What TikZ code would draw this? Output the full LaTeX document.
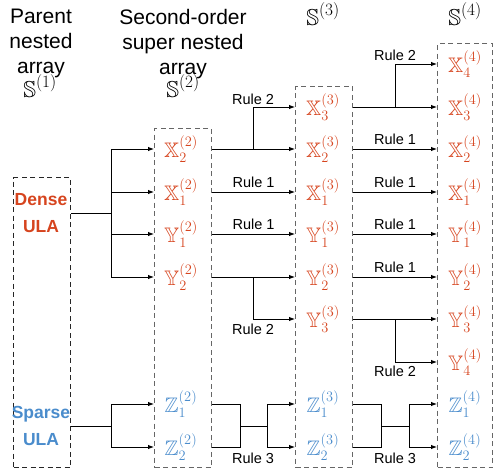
\documentclass[tikz,border=0pt]{standalone}
\usepackage{amsmath, amssymb}
\usepackage[no-math]{fontspec}
\setmainfont{Liberation Sans}
\usetikzlibrary{arrows.meta, positioning, calc}

\definecolor{denseRed}{RGB}{214,68,30}
\definecolor{sparseBlue}{RGB}{74,140,204}

\begin{document}
\begin{tikzpicture}[x=1pt, y=-1pt, line width=0.9pt, >={Latex[length=6pt, width=4.5pt]},
    grp/.style={draw=black!60, dash pattern=on 5pt off 3.5pt, line width=1pt, anchor=north west, inner sep=0pt, minimum width=57pt},
    hd/.style={font=\fontsize{21}{25}\selectfont, align=center, inner sep=0pt},
    lvl/.style={font=\fontsize{23}{23}\selectfont, inner sep=0pt, anchor=base},
    rl/.style={font=\fontsize{14.5}{16}\selectfont, inner sep=1pt},
    ula/.style={font=\fontsize{17.5}{27}\selectfont\bfseries, align=center, inner sep=0pt},
    xe/.style={text=denseRed, font=\fontsize{21}{21}\selectfont, inner sep=0pt},
    ze/.style={text=sparseBlue, font=\fontsize{21}{21}\selectfont, inner sep=0pt}]
  \useasboundingbox (0,0) rectangle (493,469);

  % column titles
  \node[hd, anchor=north] (h1) at (41,9) {Parent\\nested\\array};
  \node[hd, anchor=north] (h2) at (183,9) {Second-order\\super nested\\array};
  \node[lvl] (s1) at (40,97) {$\mathbb{S}^{(1)}$};
  \node[lvl] (s2) at (183,97) {$\mathbb{S}^{(2)}$};
  \node[lvl] (s3) at (323,25) {$\mathbb{S}^{(3)}$};
  \node[lvl] (s4) at (465,25) {$\mathbb{S}^{(4)}$};

  % dashed groups
  \node[grp, draw=black!85, minimum height=290pt] (b1) at (13,177) {};
  \node[grp, minimum height=339pt] (b2) at (154,128) {};
  \node[grp, minimum height=381pt] (b3) at (295,86) {};
  \node[grp, minimum height=424pt, minimum width=55pt] (b4) at (437,43) {};

  % parent array
  \node[ula, text=denseRed] (dense) at (41,213) {Dense\\ULA};
  \node[ula, text=sparseBlue] (sparse) at (41,426) {Sparse\\ULA};

  % second order
  \node[xe] (x22) at (181,149) {$\mathbb{X}_2^{(2)}$};
  \node[xe] (x21) at (181,192) {$\mathbb{X}_1^{(2)}$};
  \node[xe] (y21) at (181,234) {$\mathbb{Y}_1^{(2)}$};
  \node[xe] (y22) at (181,277) {$\mathbb{Y}_2^{(2)}$};
  \node[ze] (z21) at (181,404) {$\mathbb{Z}_1^{(2)}$};
  \node[ze] (z22) at (181,447) {$\mathbb{Z}_2^{(2)}$};

  % third order
  \node[xe] (x33) at (323,107) {$\mathbb{X}_3^{(3)}$};
  \node[xe] (x32) at (323,149) {$\mathbb{X}_2^{(3)}$};
  \node[xe] (x31) at (323,192) {$\mathbb{X}_1^{(3)}$};
  \node[xe] (y31) at (323,234) {$\mathbb{Y}_1^{(3)}$};
  \node[xe] (y32) at (323,277) {$\mathbb{Y}_2^{(3)}$};
  \node[xe] (y33) at (323,319) {$\mathbb{Y}_3^{(3)}$};
  \node[ze] (z31) at (323,404) {$\mathbb{Z}_1^{(3)}$};
  \node[ze] (z32) at (323,447) {$\mathbb{Z}_2^{(3)}$};

  % fourth order
  \node[xe] (x44) at (465,64) {$\mathbb{X}_4^{(4)}$};
  \node[xe] (x43) at (465,107) {$\mathbb{X}_3^{(4)}$};
  \node[xe] (x42) at (465,149) {$\mathbb{X}_2^{(4)}$};
  \node[xe] (x41) at (465,192) {$\mathbb{X}_1^{(4)}$};
  \node[xe] (y41) at (465,234) {$\mathbb{Y}_1^{(4)}$};
  \node[xe] (y42) at (465,277) {$\mathbb{Y}_2^{(4)}$};
  \node[xe] (y43) at (465,319) {$\mathbb{Y}_3^{(4)}$};
  \node[xe] (y44) at (465,362) {$\mathbb{Y}_4^{(4)}$};
  \node[ze] (z41) at (465,404) {$\mathbb{Z}_1^{(4)}$};
  \node[ze] (z42) at (465,447) {$\mathbb{Z}_2^{(4)}$};

  % ULA -> second order
  \coordinate (jd) at (111,213);
  \coordinate (js) at (111,426);
  \draw (b1.east |- dense) -- (jd);
  \draw (jd |- x22) -- (jd |- y22);
  \foreach \n in {x22,x21,y21,y22}
    \draw[->] (jd |- \n) -- (b2.west |- \n);
  \draw (b1.east |- sparse) -- (js);
  \draw (js |- z21) -- (js |- z22);
  \foreach \n in {z21,z22}
    \draw[->] (js |- \n) -- (b2.west |- \n);

  % second -> third order
  \coordinate (ra) at (253,0);
  \draw[->] (b2.east |- x22) -- (b3.west |- x22);
  \draw[->] (ra |- x22) -- (ra |- x33) -- (b3.west |- x33);
  \node[rl, above=1pt] at (ra |- x33) {Rule 2};
  \draw[->] (b2.east |- x21) -- node[rl, above=3pt] {Rule 1} (b3.west |- x21);
  \draw[->] (b2.east |- y21) -- node[rl, above=3pt] {Rule 1} (b3.west |- y21);
  \draw[->] (b2.east |- y22) -- (b3.west |- y22);
  \draw[->] (ra |- y22) -- (ra |- y33) -- (b3.west |- y33);
  \node[rl, below=4pt] at (ra |- y33) {Rule 2};

  \coordinate (za) at (240,426);
  \coordinate (zb) at (267,426);
  \draw (b2.east |- z21) -| (za |- z22) -- (b2.east |- z22);
  \draw (za) -- (zb);
  \draw (zb |- z31) -- (zb |- z32);
  \draw[->] (zb |- z31) -- (b3.west |- z31);
  \draw[->] (zb |- z32) -- (b3.west |- z32);
  \node[rl, below=5pt] at (ra |- z32) {Rule 3};

  % third -> fourth order
  \coordinate (rb) at (395,0);
  \draw[->] (b3.east |- x33) -- (b4.west |- x33);
  \draw[->] (rb |- x33) -- (rb |- x44) -- (b4.west |- x44);
  \node[rl, above=2pt] at (rb |- x44) {Rule 2};
  \draw[->] (b3.east |- x32) -- node[rl, above=3pt] {Rule 1} (b4.west |- x32);
  \draw[->] (b3.east |- x31) -- node[rl, above=3pt] {Rule 1} (b4.west |- x31);
  \draw[->] (b3.east |- y31) -- node[rl, above=3pt] {Rule 1} (b4.west |- y31);
  \draw[->] (b3.east |- y32) -- node[rl, above=3pt] {Rule 1} (b4.west |- y32);
  \draw[->] (b3.east |- y33) -- (b4.west |- y33);
  \draw[->] (rb |- y33) -- (rb |- y44) -- (b4.west |- y44);
  \node[rl, below=3pt] at (rb |- y44) {Rule 2};

  \coordinate (zc) at (381,426);
  \coordinate (zd) at (409,426);
  \draw (b3.east |- z31) -| (zc |- z32) -- (b3.east |- z32);
  \draw (zc) -- (zd);
  \draw (zd |- z41) -- (zd |- z42);
  \draw[->] (zd |- z41) -- (b4.west |- z41);
  \draw[->] (zd |- z42) -- (b4.west |- z42);
  \node[rl, below=5pt] at (rb |- z42) {Rule 3};
\end{tikzpicture}
\end{document}
